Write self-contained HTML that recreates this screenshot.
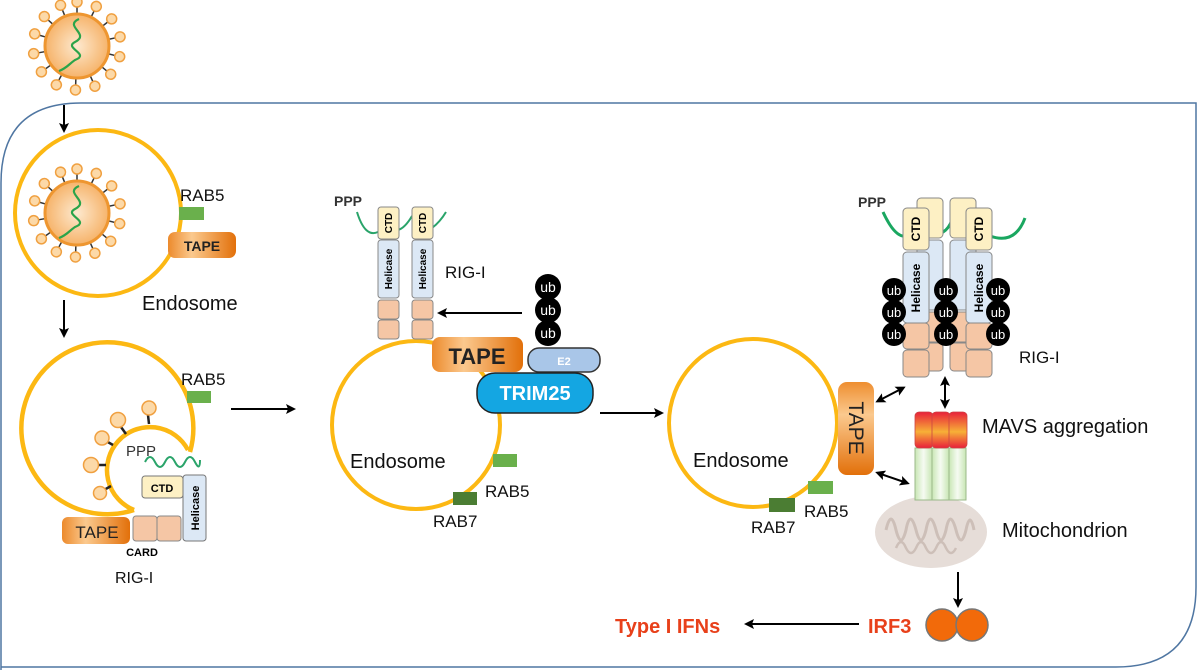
<!DOCTYPE html>
<html><head><meta charset="utf-8"><style>
html,body{margin:0;padding:0;background:#fff;}
svg{display:block;font-family:"Liberation Sans",sans-serif;}
</style></head><body>
<svg width="1200" height="670" viewBox="0 0 1200 670" xmlns="http://www.w3.org/2000/svg">
<defs>
<linearGradient id="tape" x1="0" y1="0" x2="1" y2="0">
<stop offset="0" stop-color="#ec8a2c"/><stop offset="0.35" stop-color="#fbc98e"/><stop offset="1" stop-color="#e2700a"/></linearGradient>
<linearGradient id="tapev" x1="0" y1="0" x2="0" y2="1">
<stop offset="0" stop-color="#ee8e30"/><stop offset="0.35" stop-color="#fbc98e"/><stop offset="1" stop-color="#e2700a"/></linearGradient>
<radialGradient id="vir" cx="0.5" cy="0.5" r="0.5">
<stop offset="0" stop-color="#fde9cf"/><stop offset="1" stop-color="#f6b36a"/></radialGradient>
<linearGradient id="mavsr" x1="0" y1="0" x2="0" y2="1">
<stop offset="0" stop-color="#e8203a"/><stop offset="0.55" stop-color="#f7b037"/><stop offset="1" stop-color="#e8203a"/></linearGradient>
<linearGradient id="mavsg" x1="0" y1="0" x2="1" y2="0">
<stop offset="0" stop-color="#c8e6b4"/><stop offset="0.5" stop-color="#f6fbf2"/><stop offset="1" stop-color="#c8e6b4"/></linearGradient>
<g id="spike"><line x1="0" y1="-32" x2="0" y2="-40" stroke="#333" stroke-width="1.5"/><circle cx="0" cy="-44" r="5" fill="#fcd9a8" stroke="#f0a040" stroke-width="1.5"/></g>
<g id="virus">
<use href="#spike" transform="rotate(0)"/><use href="#spike" transform="rotate(26)"/><use href="#spike" transform="rotate(52)"/><use href="#spike" transform="rotate(78)"/><use href="#spike" transform="rotate(104)"/><use href="#spike" transform="rotate(130)"/><use href="#spike" transform="rotate(156)"/><use href="#spike" transform="rotate(182)"/><use href="#spike" transform="rotate(208)"/><use href="#spike" transform="rotate(234)"/><use href="#spike" transform="rotate(260)"/><use href="#spike" transform="rotate(286)"/><use href="#spike" transform="rotate(312)"/><use href="#spike" transform="rotate(338)"/>
<circle r="32" fill="url(#vir)" stroke="#ee9630" stroke-width="3"/>
<path d="M2,-27 C-14,-20 14,-12 -2,-4 C-14,2 14,8 -2,14 C-8,18 -10,22 -18,25" fill="none" stroke="#2aa44a" stroke-width="2.2"/>
</g>
<marker id="ar" markerWidth="10" markerHeight="10" refX="7" refY="5" orient="auto" markerUnits="userSpaceOnUse"><path d="M0,0 L10,5 L0,10 L2,5z" fill="#000"/></marker>
<marker id="al" markerWidth="10" markerHeight="10" refX="3" refY="5" orient="auto" markerUnits="userSpaceOnUse"><path d="M10,0 L0,5 L10,10 L8,5z" fill="#000"/></marker>
</defs>

<path d="M1,670 L1,183 Q1,103 81,103 L1196,103 L1196,587 Q1196,667 1116,667 L1,667" fill="none" stroke="#4f76a2" stroke-width="1.5"/>

<use href="#virus" transform="translate(77,46)"/>
<line x1="64" y1="105" x2="64" y2="130" stroke="#000" stroke-width="2" marker-end="url(#ar)"/>

<circle cx="98" cy="213" r="83" fill="none" stroke="#fcb813" stroke-width="4"/>
<use href="#virus" transform="translate(77,213)"/>
<text x="180" y="201" font-size="17" fill="#111">RAB5</text>
<rect x="179" y="207" width="25" height="13" fill="#6ab04c"/>
<rect x="168" y="232" width="68" height="26" rx="7" fill="url(#tape)"/>
<text x="202" y="251" font-size="14" font-weight="bold" text-anchor="middle" fill="#222">TAPE</text>
<text x="142" y="310" font-size="20" fill="#111">Endosome</text>
<line x1="64" y1="300" x2="64" y2="335" stroke="#000" stroke-width="2" marker-end="url(#ar)"/>

<path d="M190,452 A86,86 0 1 0 134,510" fill="none" stroke="#fcb813" stroke-width="4.5"/>
<path d="M134,510 A43,43 0 1 1 188,450" fill="none" stroke="#fcb813" stroke-width="4.5"/>
<g stroke="#222" stroke-width="2.5">
<line x1="148" y1="415" x2="149" y2="424"/><line x1="121" y1="427" x2="126" y2="434"/><line x1="106" y1="441" x2="113" y2="445"/><line x1="97" y1="465" x2="106" y2="465"/><line x1="104" y1="490" x2="111" y2="486"/></g>
<g fill="#fcd9a8" stroke="#f0a040" stroke-width="1.5">
<circle cx="149" cy="408" r="7"/><circle cx="118" cy="420" r="7.5"/><circle cx="102" cy="438" r="7"/><circle cx="91" cy="465" r="7.5"/><circle cx="100" cy="493" r="6.5"/></g>
<text x="126" y="456" font-size="15" fill="#333">PPP</text>
<path d="M145,462 Q150,452 155,462 T165,462 T175,462 T185,462 T195,462 T200,460" fill="none" stroke="#2aa46a" stroke-width="2"/>
<rect x="142" y="476" width="41" height="22" rx="3" fill="#fdf0c4" stroke="#777"/>
<text x="162" y="492" font-size="11" font-weight="bold" text-anchor="middle">CTD</text>
<rect x="183" y="475" width="23" height="66" rx="3" fill="#dce8f5" stroke="#777"/>
<text transform="translate(199,508) rotate(-90)" font-size="11" font-weight="bold" text-anchor="middle">Helicase</text>
<rect x="133" y="516" width="24" height="25" rx="3" fill="#f5c6a5" stroke="#888"/>
<rect x="157" y="516" width="24" height="25" rx="3" fill="#f5c6a5" stroke="#888"/>
<rect x="62" y="517" width="68" height="27" rx="6" fill="url(#tape)"/>
<text x="97" y="538" font-size="17" text-anchor="middle" fill="#222">TAPE</text>
<text x="142" y="556" font-size="11" font-weight="bold" text-anchor="middle">CARD</text>
<text x="115" y="583" font-size="16" fill="#111">RIG-I</text>
<text x="181" y="385" font-size="17" fill="#111">RAB5</text>
<rect x="187" y="391" width="24" height="12" fill="#6ab04c"/>
<line x1="231" y1="409" x2="293" y2="409" stroke="#000" stroke-width="2" marker-end="url(#ar)"/>

<circle cx="416" cy="425" r="84" fill="none" stroke="#fcb813" stroke-width="4"/>
<text x="350" y="468" font-size="20" fill="#111">Endosome</text>
<rect x="493" y="454" width="24" height="13" fill="#6ab04c"/>
<text x="485" y="497" font-size="17" fill="#111">RAB5</text>
<rect x="453" y="492" width="24" height="13" fill="#4b7d33"/>
<text x="433" y="527" font-size="17" fill="#111">RAB7</text>
<text x="334" y="206" font-size="14" font-weight="bold" fill="#333">PPP</text>
<path d="M357,212 Q365,238 378,232 M398,230 Q405,228 412,216 M432,228 Q440,222 446,212" fill="none" stroke="#2aa46a" stroke-width="2"/>
<g stroke="#888">
<rect x="378" y="207" width="21" height="32" rx="3" fill="#fdf0c4"/>
<rect x="378" y="240" width="21" height="58" rx="3" fill="#dce8f5"/>
<rect x="378" y="300" width="21" height="19" rx="3" fill="#f5c6a5"/>
<rect x="378" y="320" width="21" height="19" rx="3" fill="#f5c6a5"/>
<rect x="412" y="207" width="21" height="32" rx="3" fill="#fdf0c4"/>
<rect x="412" y="240" width="21" height="58" rx="3" fill="#dce8f5"/>
<rect x="412" y="300" width="21" height="19" rx="3" fill="#f5c6a5"/>
<rect x="412" y="320" width="21" height="19" rx="3" fill="#f5c6a5"/></g>
<g font-size="10" font-weight="bold" text-anchor="middle">
<text transform="translate(392,223) rotate(-90)">CTD</text><text transform="translate(426,223) rotate(-90)">CTD</text>
<text transform="translate(392,269) rotate(-90)">Helicase</text><text transform="translate(426,269) rotate(-90)">Helicase</text></g>
<text x="445" y="278" font-size="17" fill="#111">RIG-I</text>
<line x1="522" y1="313" x2="440" y2="313" stroke="#000" stroke-width="2" marker-end="url(#ar)"/>
<g fill="#000"><circle cx="548" cy="287" r="13"/><circle cx="548" cy="310" r="13"/><circle cx="548" cy="333" r="13"/></g>
<g fill="#fff" font-size="14" text-anchor="middle"><text x="548" y="292">ub</text><text x="548" y="315">ub</text><text x="548" y="338">ub</text></g>
<rect x="528" y="348" width="72" height="24" rx="11" fill="#a9c6e8" stroke="#333" stroke-width="1.5"/>
<text x="564" y="365" font-size="11" fill="#fff" text-anchor="middle" font-weight="bold">E2</text>
<rect x="432" y="337" width="91" height="35" rx="8" fill="url(#tape)"/>
<text x="477" y="364" font-size="22" font-weight="bold" text-anchor="middle" fill="#222">TAPE</text>
<rect x="477" y="373" width="116" height="40" rx="18" fill="#14a6e2" stroke="#222" stroke-width="1.5"/>
<text x="535" y="400" font-size="20" font-weight="bold" fill="#fff" text-anchor="middle">TRIM25</text>
<line x1="600" y1="413" x2="661" y2="413" stroke="#000" stroke-width="2" marker-end="url(#ar)"/>

<circle cx="753" cy="423" r="84" fill="none" stroke="#fcb813" stroke-width="4"/>
<text x="693" y="467" font-size="20" fill="#111">Endosome</text>
<rect x="808" y="481" width="25" height="13" fill="#6ab04c"/>
<text x="804" y="517" font-size="17" fill="#111">RAB5</text>
<rect x="769" y="498" width="26" height="14" fill="#4b7d33"/>
<text x="751" y="533" font-size="17" fill="#111">RAB7</text>
<rect x="838" y="382" width="36" height="93" rx="9" fill="url(#tapev)"/>
<text transform="translate(849,428) rotate(90)" font-size="21" text-anchor="middle" fill="#222">TAPE</text>
<line x1="878" y1="401" x2="903" y2="388" stroke="#000" stroke-width="2" marker-start="url(#al)" marker-end="url(#ar)"/>
<line x1="878" y1="473" x2="907" y2="483" stroke="#000" stroke-width="2" marker-start="url(#al)" marker-end="url(#ar)"/>
<line x1="945" y1="379" x2="945" y2="406" stroke="#000" stroke-width="2" marker-start="url(#al)" marker-end="url(#ar)"/>

<text x="858" y="207" font-size="14" font-weight="bold" fill="#333">PPP</text>
<path d="M883,212 Q895,238 906,236 M930,232 Q945,238 952,220 M990,236 Q1015,245 1025,218" fill="none" stroke="#1aa760" stroke-width="3"/>
<g stroke="#888">
<rect x="917" y="198" width="26" height="40" rx="4" fill="#fdf0c4"/>
<rect x="917" y="240" width="26" height="70" rx="4" fill="#dce8f5"/>
<rect x="917" y="312" width="26" height="30" rx="4" fill="#f5c6a5"/>
<rect x="917" y="343" width="26" height="28" rx="4" fill="#f5c6a5"/>
<rect x="950" y="198" width="26" height="40" rx="4" fill="#fdf0c4"/>
<rect x="950" y="240" width="26" height="70" rx="4" fill="#dce8f5"/>
<rect x="950" y="312" width="26" height="30" rx="4" fill="#f5c6a5"/>
<rect x="950" y="343" width="26" height="28" rx="4" fill="#f5c6a5"/>
<rect x="903" y="208" width="26" height="42" rx="4" fill="#fdf0c4"/>
<rect x="903" y="252" width="26" height="71" rx="4" fill="#dce8f5"/>
<rect x="903" y="323" width="26" height="26" rx="4" fill="#f5c6a5"/>
<rect x="903" y="350" width="26" height="27" rx="4" fill="#f5c6a5"/>
<rect x="966" y="208" width="26" height="42" rx="4" fill="#fdf0c4"/>
<rect x="966" y="252" width="26" height="71" rx="4" fill="#dce8f5"/>
<rect x="966" y="323" width="26" height="26" rx="4" fill="#f5c6a5"/>
<rect x="966" y="350" width="26" height="27" rx="4" fill="#f5c6a5"/></g>
<g font-size="12" font-weight="bold" text-anchor="middle">
<text transform="translate(920,229) rotate(-90)">CTD</text><text transform="translate(983,229) rotate(-90)">CTD</text>
<text transform="translate(920,288) rotate(-90)">Helicase</text><text transform="translate(983,288) rotate(-90)">Helicase</text></g>
<g fill="#000"><circle cx="894" cy="290" r="12"/><circle cx="894" cy="312" r="12"/><circle cx="894" cy="334" r="12"/>
<circle cx="946" cy="290" r="12"/><circle cx="946" cy="312" r="12"/><circle cx="946" cy="334" r="12"/>
<circle cx="998" cy="290" r="12"/><circle cx="998" cy="312" r="12"/><circle cx="998" cy="334" r="12"/></g>
<g fill="#fff" font-size="13" text-anchor="middle">
<text x="894" y="295">ub</text><text x="894" y="317">ub</text><text x="894" y="339">ub</text>
<text x="946" y="295">ub</text><text x="946" y="317">ub</text><text x="946" y="339">ub</text>
<text x="998" y="295">ub</text><text x="998" y="317">ub</text><text x="998" y="339">ub</text></g>
<text x="1019" y="363" font-size="17" fill="#111">RIG-I</text>

<ellipse cx="931" cy="532" rx="56" ry="36" fill="#e6ddd8"/>
<path d="M886,530 q5,-22 10,0 q5,20 10,0 q4,-22 10,0 q5,20 10,0 q4,-22 10,0 q5,20 10,0 q4,-22 10,0 q5,20 10,0 q4,-20 8,0" fill="none" stroke="#cdbfb8" stroke-width="3"/>
<path d="M896,548 q5,-12 10,0 q5,10 10,0 q5,-12 10,0 q5,10 10,0 q5,-12 10,0 q5,10 10,0" fill="none" stroke="#cdbfb8" stroke-width="2.5"/>
<g stroke="#9bb98a" stroke-width="1">
<rect x="915" y="448" width="17" height="52" fill="url(#mavsg)"/>
<rect x="932" y="448" width="17" height="52" fill="url(#mavsg)"/>
<rect x="949" y="448" width="17" height="52" fill="url(#mavsg)"/></g>
<g stroke="#c44" stroke-width="0.8">
<rect x="915" y="412" width="18" height="36" rx="4" fill="url(#mavsr)"/>
<rect x="932" y="412" width="18" height="36" rx="4" fill="url(#mavsr)"/>
<rect x="949" y="412" width="18" height="36" rx="4" fill="url(#mavsr)"/></g>
<text x="982" y="433" font-size="20" fill="#111">MAVS aggregation</text>
<text x="1002" y="537" font-size="20" fill="#111">Mitochondrion</text>
<line x1="958" y1="572" x2="958" y2="605" stroke="#000" stroke-width="2" marker-end="url(#ar)"/>
<circle cx="942" cy="625" r="16" fill="#f26a0a" stroke="#777" stroke-width="1.5"/>
<circle cx="972" cy="625" r="16" fill="#f26a0a" stroke="#777" stroke-width="1.5"/>
<text x="868" y="633" font-size="20" font-weight="bold" fill="#e8401a">IRF3</text>
<line x1="859" y1="624" x2="747" y2="624" stroke="#000" stroke-width="2" marker-end="url(#ar)"/>
<text x="615" y="633" font-size="20" font-weight="bold" fill="#e8401a">Type I IFNs</text>
</svg>
</body></html>
